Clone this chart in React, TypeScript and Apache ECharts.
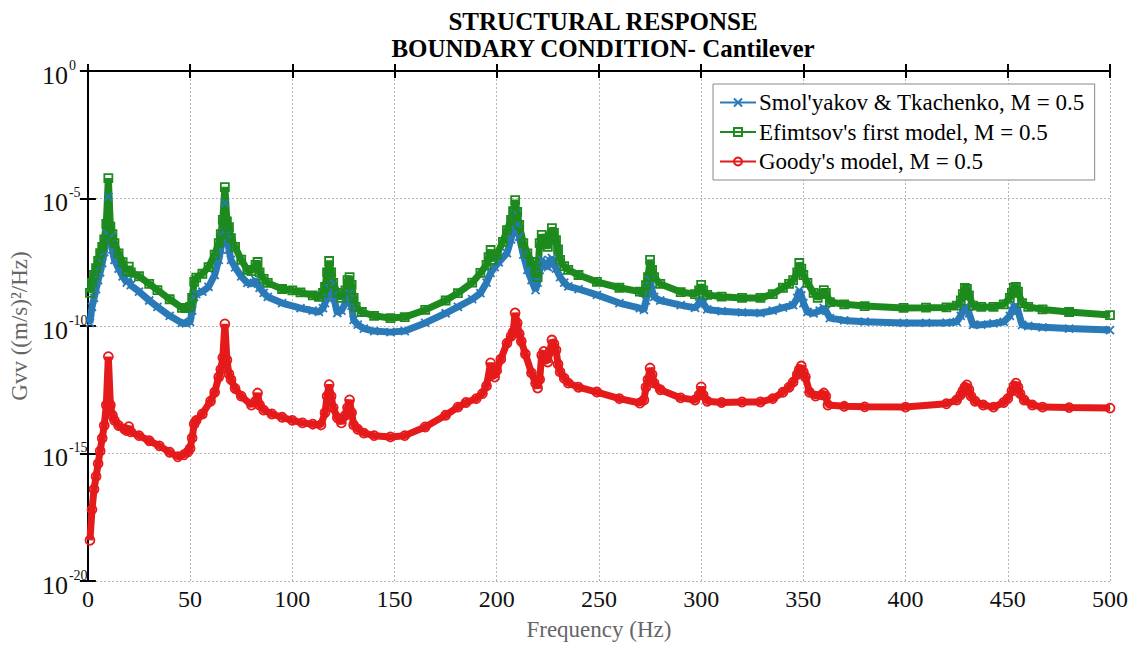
import React, { useEffect, useRef } from "react";
import * as echarts from "echarts";

// Frequencies (Hz) and log10(Gvv), per series
const smolFreq = [1,2,3,4,5,6,7,8,9,10,11,12,13,15,17,19,20,21,25,30,34,40,46,48,50,51,52,53,56,59,62,64,65,66,67,68,69,70,72,75,78,80,82,84,86,88,95,104,110,113,115,116,117,118,119,120,122,124,126,127,128,129,130,132,135,140,148,155,165,175,181,188,192,195,197,199,201,205,207,208,209,210,211,213,215,217,219,220,221,222,223,224,225,226,227,228,229,231,233,235,240,249,260,270,272,273,274,275,276,277,280,290,297,299,300,301,303,310,320,329,335,340,345,347,348,349,350,352,355,358,360,361,363,370,380,399,410,420,425,427,428,429,430,431,433,437,443,448,451,452,453,454,455,457,460,467,480,500];
const smolLog = [-9.88,-9.25,-8.9,-8.55,-8.2,-7.9,-7.53,-7.1,-6.35,-4.94,-6.51,-7.0,-7.41,-7.75,-8.05,-8.3,-8.2,-8.4,-8.65,-9.0,-9.25,-9.6,-9.88,-9.9,-9.84,-9.4,-8.86,-8.75,-8.65,-8.47,-8.0,-7.41,-7.0,-6.3,-5.18,-6.4,-7.0,-7.41,-7.7,-8.05,-8.31,-8.35,-8.2,-8.5,-8.7,-8.86,-9.1,-9.3,-9.4,-9.45,-9.3,-9.1,-8.9,-8.5,-8.2,-8.8,-9.49,-9.4,-9.1,-8.85,-8.71,-9.2,-9.76,-9.95,-10.1,-10.2,-10.24,-10.2,-9.88,-9.5,-9.25,-8.95,-8.71,-8.3,-7.92,-7.69,-7.5,-7.14,-6.6,-6.2,-5.57,-6.0,-6.5,-7.2,-7.8,-8.2,-8.59,-8.3,-7.8,-7.41,-7.55,-7.65,-7.69,-7.45,-7.33,-7.55,-7.75,-8.08,-8.3,-8.45,-8.55,-8.78,-9.1,-9.3,-9.37,-9.0,-8.6,-8.2,-8.6,-8.86,-9.0,-9.18,-9.29,-9.1,-8.9,-9.1,-9.35,-9.42,-9.47,-9.49,-9.4,-9.28,-9.18,-8.9,-8.59,-8.8,-9.1,-9.45,-9.5,-9.4,-9.29,-9.4,-9.69,-9.78,-9.83,-9.88,-9.88,-9.87,-9.84,-9.6,-9.4,-9.25,-9.3,-9.5,-9.96,-9.95,-9.9,-9.84,-9.6,-9.4,-9.25,-9.22,-9.4,-9.96,-10.0,-10.05,-10.1,-10.16];

const efimFreq = [1,2,3,4,5,6,7,8,9,10,11,12,13,15,17,19,20,21,25,30,34,40,46,48,50,51,52,53,56,59,62,64,65,66,67,68,69,70,72,75,78,80,82,83,84,86,88,95,100,104,110,113,115,116,117,118,119,120,122,124,126,127,128,129,130,131,134,140,148,155,165,175,181,188,192,195,196,197,198,200,203,205,207,208,209,210,211,213,215,217,219,220,221,222,223,224,225,226,227,228,229,230,231,233,235,240,249,260,270,272,273,274,275,276,277,280,290,297,299,300,301,303,310,320,329,335,340,343,345,347,348,349,350,352,355,357,359,360,361,363,370,380,399,410,420,425,427,428,429,430,431,433,437,443,448,451,452,453,454,455,457,460,467,480,500];
const efimLog = [-8.7,-8.3,-8.0,-7.73,-7.45,-7.14,-6.9,-6.6,-6.0,-4.2,-6.1,-6.4,-6.75,-7.15,-7.5,-7.85,-7.67,-7.9,-8.05,-8.35,-8.59,-8.95,-9.29,-9.3,-9.25,-8.9,-8.27,-8.1,-7.95,-7.69,-7.2,-6.75,-6.4,-5.84,-4.55,-5.9,-6.12,-6.55,-6.9,-7.4,-7.8,-7.85,-7.6,-7.49,-7.9,-8.15,-8.31,-8.55,-8.6,-8.68,-8.8,-8.86,-8.7,-8.47,-7.9,-7.45,-7.9,-8.31,-8.7,-8.9,-8.6,-8.2,-8.08,-8.39,-8.9,-9.25,-9.45,-9.6,-9.69,-9.65,-9.37,-9.0,-8.71,-8.3,-7.92,-7.6,-7.3,-7.02,-7.41,-7.2,-6.7,-6.24,-5.84,-5.5,-5.06,-5.53,-6.04,-6.75,-7.15,-7.49,-7.9,-8.08,-6.75,-6.43,-6.6,-6.8,-6.9,-6.5,-6.16,-6.35,-6.63,-7.0,-7.41,-7.65,-7.8,-8.0,-8.27,-8.5,-8.65,-8.67,-8.4,-8.08,-7.41,-7.8,-8.08,-8.35,-8.67,-8.75,-8.6,-8.39,-8.6,-8.78,-8.85,-8.9,-8.9,-8.75,-8.5,-8.35,-8.2,-7.9,-7.53,-7.75,-8.0,-8.31,-8.7,-8.9,-8.75,-8.59,-8.7,-9.06,-9.15,-9.22,-9.29,-9.28,-9.27,-9.2,-9.0,-8.75,-8.51,-8.55,-8.8,-9.2,-9.25,-9.25,-9.15,-8.9,-8.7,-8.5,-8.47,-8.65,-9.1,-9.25,-9.35,-9.45,-9.57];

const goodyFreq = [1,2,3,4,5,6,7,8,9,10,11,12,13,15,18,19,20,21,25,30,35,40,44,47,49,50,51,52,53,56,60,62,64,65,66,67,68,69,70,72,75,80,82,83,84,86,90,95,100,105,110,114,116,117,118,119,120,122,124,126,127,128,129,130,132,135,140,148,155,165,175,181,185,190,193,195,197,198,199,200,202,205,207,208,209,210,211,212,214,217,219,220,221,222,223,224,225,226,227,228,229,230,231,233,235,240,249,260,270,272,273,274,275,276,277,280,290,297,299,300,301,303,310,320,329,335,340,343,345,347,348,349,350,351,353,356,359,360,361,362,370,380,400,420,425,427,428,429,430,431,432,434,438,443,448,450,452,453,454,455,456,458,462,467,480,500];
const goodyLog = [-18.4,-17.2,-16.4,-15.9,-15.4,-14.9,-14.4,-13.9,-13.1,-11.2,-13.1,-13.5,-13.7,-13.9,-14.05,-14.1,-13.95,-14.15,-14.3,-14.5,-14.7,-14.95,-15.13,-15.05,-14.93,-14.8,-14.39,-13.84,-13.7,-13.45,-12.95,-12.6,-12.0,-11.7,-11.24,-9.92,-11.33,-11.88,-12.1,-12.45,-12.75,-13.1,-12.95,-12.63,-13.1,-13.3,-13.45,-13.58,-13.7,-13.8,-13.85,-13.88,-13.4,-12.75,-12.3,-12.75,-13.2,-13.6,-13.8,-13.5,-13.2,-12.9,-13.4,-13.88,-14.05,-14.2,-14.3,-14.35,-14.3,-13.96,-13.5,-13.18,-13.0,-12.85,-12.65,-12.35,-11.45,-11.9,-12.0,-11.75,-11.3,-10.67,-10.4,-10.24,-9.49,-9.88,-10.3,-10.6,-11.1,-11.84,-12.25,-12.43,-12.1,-11.14,-11.0,-11.3,-11.41,-11.0,-10.55,-10.7,-10.94,-11.5,-11.8,-12.05,-12.24,-12.4,-12.59,-12.85,-13.02,-12.9,-12.4,-12.1,-11.65,-11.9,-12.24,-12.5,-12.82,-12.9,-12.7,-12.39,-12.7,-12.95,-13.0,-12.98,-12.98,-12.85,-12.6,-12.4,-12.2,-11.9,-11.7,-11.57,-11.8,-12.0,-12.6,-12.75,-12.7,-12.63,-12.75,-13.1,-13.15,-13.17,-13.18,-13.05,-12.9,-12.7,-12.55,-12.4,-12.31,-12.5,-12.75,-12.95,-13.1,-13.18,-13.0,-12.85,-12.55,-12.35,-12.24,-12.4,-12.65,-12.9,-13.1,-13.18,-13.2,-13.22];

const seriesNames = [
  "Smol'yakov & Tkachenko, M = 0.5",
  "Efimtsov's first model, M = 0.5",
  "Goody's model, M = 0.5",
];
const xTicks = { min: 0, max: 500, interval: 50 };
const yExponents = { min: -20, max: 0, interval: 5 };

const BLUE = "#2a7ab8";
const GREEN = "#1d8a1d";
const RED = "#e51a1a";
const SERIF = "'Liberation Serif', 'Times New Roman', serif";

function pairs(fs: number[], ls: number[]) {
  return fs.map((f, i) => [f, ls[i]]);
}

export default function App() {
  const ref = useRef<HTMLDivElement>(null);
  useEffect(() => {
    if (!ref.current) return;
    const chart = echarts.init(ref.current, null, { renderer: "svg" });
    const axisLine = { show: true, lineStyle: { color: "#000", width: 2 } };
    const axisTick = { show: true, inside: true, length: 7, lineStyle: { color: "#000", width: 2 } };
    const mkSeries = (name: string, data: number[][], color: string, symbol: string, size: number) => ({
      name,
      type: "line",
      data,
      xAxisIndex: 0,
      yAxisIndex: 0,
      symbol,
      symbolSize: size,
      showAllSymbol: true,
      lineStyle: { color, width: 7 },
      itemStyle: { color: "rgba(255,255,255,0)", borderColor: color, borderWidth: 1.8 },
      emphasis: { disabled: true },
    });
    chart.setOption({
      animation: false,
      backgroundColor: "#fff",
      title: {
        text: "STRUCTURAL RESPONSE\nBOUNDARY CONDITION- Cantilever",
        left: 598,
        top: 3,
        textAlign: "center",
        textStyle: { fontFamily: SERIF, fontWeight: "bold", fontSize: 25, lineHeight: 27, color: "#000" },
      },
      legend: {
        orient: "vertical",
        left: 713,
        top: 84,
        padding: [7, 10, 7, 6],
        itemGap: 6.5,
        itemWidth: 36,
        itemHeight: 10,
        backgroundColor: "#fff",
        borderColor: "#888",
        borderWidth: 1,
        borderRadius: 0,
        textStyle: { fontFamily: SERIF, fontSize: 23, lineHeight: 23, color: "#000", padding: [0, 0, 0, -2] },
        data: seriesNames,
      },
      grid: { left: 86, right: 30, top: 71, bottom: 65, show: false },
      xAxis: [
        {
          type: "value",
          position: "bottom",
          ...xTicks,
          name: "Frequency (Hz)",
          nameLocation: "middle",
          nameGap: 37,
          nameTextStyle: { fontFamily: SERIF, fontSize: 23, color: "#666" },
          axisLine,
          axisTick,
          axisLabel: { fontFamily: SERIF, fontSize: 24, color: "#111", margin: 6 },
          splitLine: { show: true, lineStyle: { color: "#b5b5b5", type: [2, 2], width: 1 } },
        },
        {
          type: "value",
          position: "top",
          ...xTicks,
          axisLine,
          axisTick,
          axisLabel: { show: false },
          splitLine: { show: false },
        },
      ],
      yAxis: [
        {
          type: "value",
          position: "left",
          ...yExponents,
          name: "Gvv ((m/s)²/Hz)",
          nameLocation: "middle",
          nameGap: 33,
          nameTextStyle: { fontFamily: SERIF, fontSize: 23, color: "#666" },
          axisLine,
          axisTick: { ...axisTick, length: 8 },
          axisLabel: {
            margin: 46,
            align: "left",
            formatter: (v: number) => `{b|10}{s|${v}}`,
            rich: {
              b: { fontFamily: SERIF, fontSize: 26, color: "#111", padding: [8, 0, 0, 0] },
              s: { fontFamily: SERIF, fontSize: 14, color: "#111", padding: [0, 0, 12, 1] },
            },
          },
          splitLine: { show: true, lineStyle: { color: "#b5b5b5", type: [2, 2], width: 1 } },
        },
        {
          type: "value",
          position: "right",
          ...yExponents,
          axisLine,
          axisTick: { ...axisTick, length: 8 },
          axisLabel: { show: false },
          splitLine: { show: false },
        },
      ],
      series: [
        mkSeries(seriesNames[0], pairs(smolFreq, smolLog), BLUE, "path://M0,0L10,10M10,0L0,10", 8),
        mkSeries(seriesNames[1], pairs(efimFreq, efimLog), GREEN, "rect", 8),
        mkSeries(seriesNames[2], pairs(goodyFreq, goodyLog), RED, "circle", 9),
      ],
    });
    return () => chart.dispose();
  }, []);
  return (
    <div
      ref={ref}
      style={{ position: "absolute", left: 0, top: 0, width: 1140, height: 646 }}
    />
  );
}
